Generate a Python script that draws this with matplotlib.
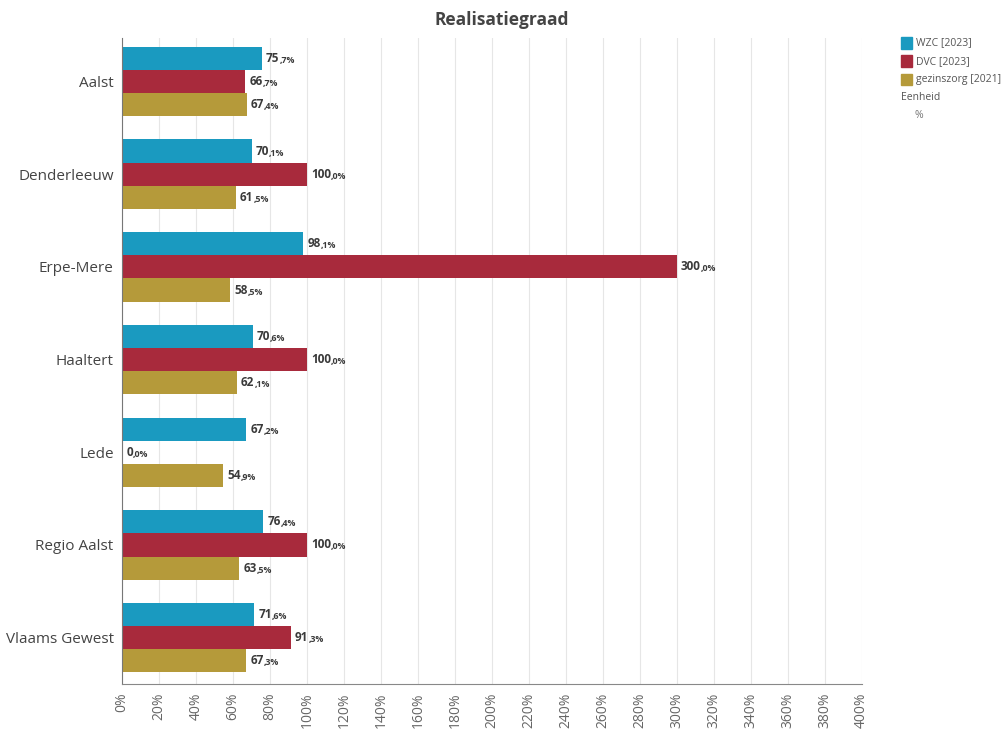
import numpy as np
import matplotlib

matplotlib.use("Agg")
import matplotlib.pyplot as plt

plt.rcParams["font.family"] = ["Open Sans", "DejaVu Sans"]

regions = ["Aalst", "Denderleeuw", "Erpe-Mere", "Haaltert", "Lede",
           "Regio Aalst", "Vlaams Gewest"]
wzc_2023 = [75.7, 70.1, 98.1, 70.6, 67.2, 76.4, 71.6]
dvc_2023 = [66.7, 100.0, 300.0, 100.0, 0.0, 100.0, 91.3]
gezinszorg_2021 = [67.4, 61.5, 58.5, 62.1, 54.9, 63.5, 67.3]
series_names = ["WZC [2023]", "DVC [2023]", "gezinszorg [2021]"]
colors = ["#1a9ac0", "#a82a3c", "#b59a3a"]
x_ticks = np.arange(0, 401, 20)

fig = plt.figure(figsize=(10.03, 7.29), dpi=100)
ax = fig.add_axes([0.1216, 0.0617, 0.7375, 0.8863])

y = np.arange(len(regions))
h = 0.25
series = [wzc_2023, dvc_2023, gezinszorg_2021]
for k, (vals, col) in enumerate(zip(series, colors)):
    ypos = y + (k - 1) * h
    ax.barh(ypos, vals, height=h, color=col, zorder=2)
    for yy, v in zip(ypos, vals):
        whole, dec = f"{v:.1f}".split(".")
        t = ax.annotate(whole, xy=(v, yy), xytext=(3, 0),
                        textcoords="offset points", va="center", ha="left",
                        fontsize=8.5, fontweight="bold", color="#3a3a3a")
        # smaller decimal part, sharing the baseline of the whole number
        ax.annotate(f",{dec}%", xy=(1, 0), xycoords=t, va="bottom",
                    ha="left", fontsize=6.3, fontweight="bold",
                    color="#3a3a3a")

ax.set_xlim(0, 400)
ax.set_ylim(len(regions) - 0.5, -0.47)
ax.set_yticks(y)
ax.set_yticklabels(regions, fontsize=11, color="#444444")
ax.set_xticks(x_ticks)
ax.set_xticklabels([f"{t}%" for t in x_ticks], rotation=90, fontsize=10,
                   color="#666666")
ax.tick_params(axis="both", length=0, pad=6)
ax.grid(axis="x", color="#e6e6e6", linewidth=0.8, zorder=0)
for s in ("top", "right"):
    ax.spines[s].set_visible(False)
ax.spines["left"].set_color("#777777")
ax.spines["bottom"].set_color("#888888")
ax.set_axisbelow(True)

fig.text(0.5, 0.972, "Realisatiegraad", ha="center", va="center",
         fontsize=12.5, fontweight="bold", color="#444444")

# legend on the right
lx, ly = 0.898, 0.941
for i, (name, col) in enumerate(zip(series_names, colors)):
    yy = ly - i * 0.025
    fig.patches.append(plt.Rectangle((lx, yy - 0.008), 0.011, 0.016,
                                     transform=fig.transFigure,
                                     color=col, figure=fig))
    fig.text(lx + 0.015, yy, name, va="center", ha="left", fontsize=7.5,
             color="#555555")
fig.text(lx, ly - 3 * 0.025, "Eenheid", va="center", ha="left",
         fontsize=7.5, color="#555555")
fig.text(lx + 0.014, ly - 4 * 0.025, "%", va="center", ha="left",
         fontsize=7.5, color="#777777")

fig.savefig("out.png", dpi=100)
